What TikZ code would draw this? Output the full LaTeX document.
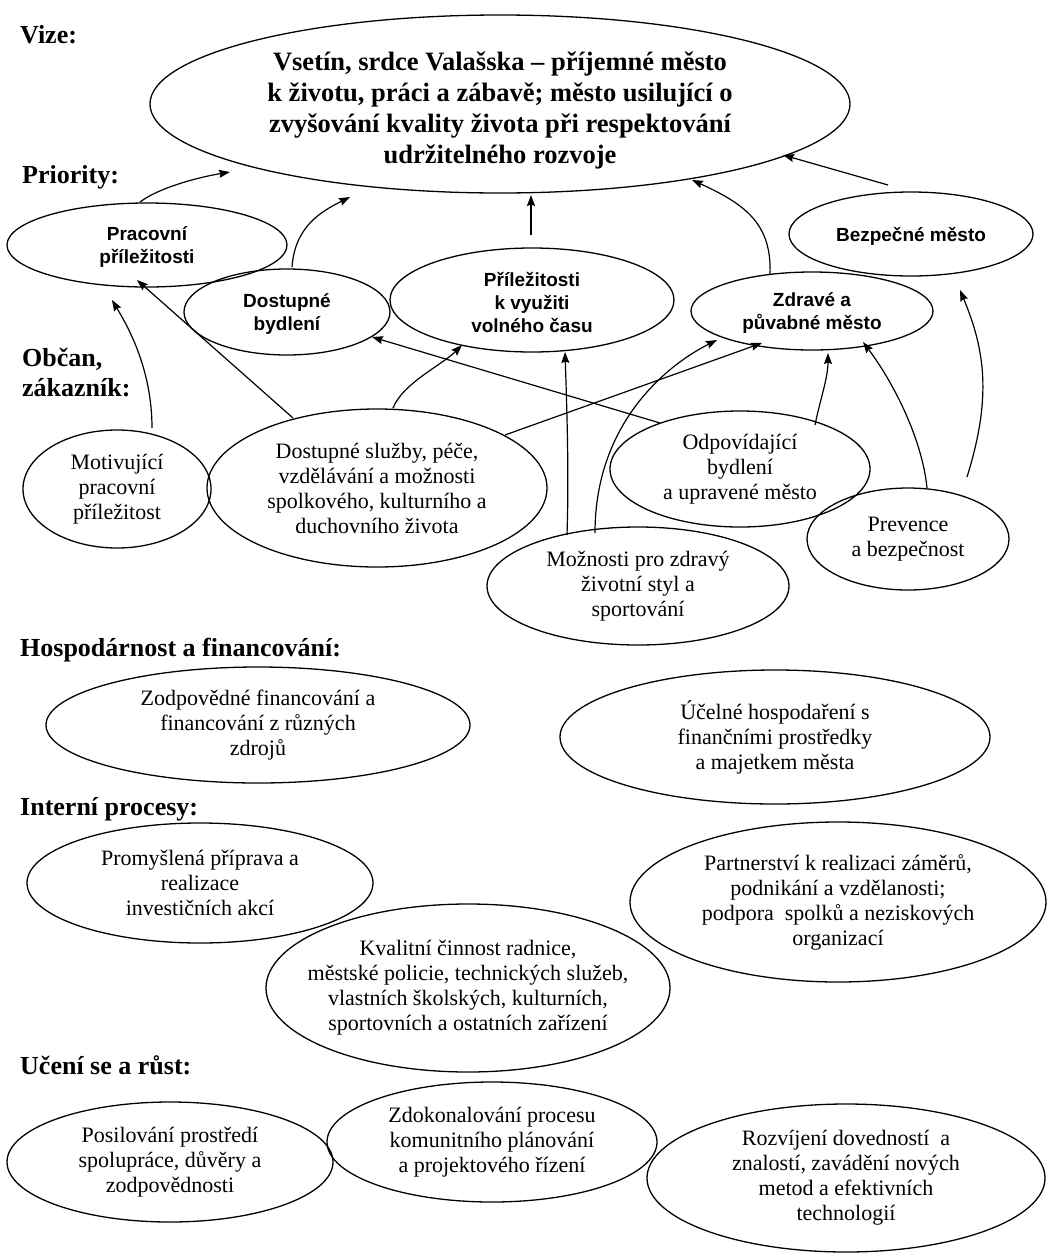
\documentclass[tikz,border=0pt]{standalone}
\usepackage{fontspec}
\setmainfont{Liberation Serif}
\setsansfont{Liberation Sans}
\usetikzlibrary{shapes.geometric,arrows.meta}
\tikzset{
  bubble/.style={draw, ellipse, line width=1.3pt, inner sep=0pt},
  vtxt/.style={align=center, inner sep=0pt, yshift=-6pt, font=\bfseries\fontsize{26.5}{31}\selectfont},
  ptxt/.style={align=center, inner sep=0pt, yshift=-2pt, font=\sffamily\bfseries\fontsize{19}{23}\selectfont},
  ctxt/.style={align=center, inner sep=0pt, font=\fontsize{22}{25}\selectfont},
  head/.style={anchor=base west, inner sep=0pt, font=\bfseries\fontsize{26}{30}\selectfont},
  arr/.style={line width=1.2pt, -{Stealth[length=11pt,width=8pt,inset=1.5pt]}},
}
% name, x, y, width, height, text style, text
\newcommand{\bub}[7]{%
  \node[bubble, minimum width=#4pt, minimum height=#5pt] (#1) at (#2,#3) {};
  \node[#6] (#1-t) at (#1.center) {#7};
}
\begin{document}
\begin{tikzpicture}[x=1pt, y=-1pt]
\fill[white] (0,0) rectangle (1048,1253);
\useasboundingbox (0,0) rectangle (1048,1253);

% headings
\node[head] (h-vize) at (20,43) {Vize:};
\node[head] (h-prio) at (22,183) {Priority:};
\node[head] (h-obcan) at (22,366) {Občan,};
\node[head] (h-zak) at (22,396) {zákazník:};
\node[head] (h-hosp) at (20,656) {Hospodárnost a financování:};
\node[head] (h-int) at (20,815) {Interní procesy:};
\node[head] (h-uc) at (20,1074) {Učení se a růst:};

% vision
\bub{vis}{500}{104}{700}{178}{vtxt}{Vsetín, srdce Valašska – příjemné město\\k životu, práci a zábavě; město usilující o\\zvyšování kvality života při respektování\\udržitelného rozvoje}

% priorities
\bub{prac}{147}{245}{280}{84}{ptxt}{Pracovní\\příležitosti}
\bub{dbyd}{287}{312}{206}{86}{ptxt}{Dostupné\\bydlení}
\bub{prile}{532}{300}{284}{104}{ptxt}{Příležitosti\\k využiti\\volného času}
\bub{zdr}{812}{311}{242}{78}{ptxt}{Zdravé a\\půvabné město}
\bub{bez}{911}{234}{244}{84}{ptxt}{Bezpečné město}

% citizen
\bub{mot}{117}{489}{188}{118}{ctxt}{Motivující\\pracovní\\příležitost}
\bub{dsl}{377}{488}{340}{158}{ctxt}{Dostupné služby, péče,\\vzdělávání a možnosti\\spolkového, kulturního a\\duchovního života}
\bub{odp}{740}{469}{260}{116}{ctxt}{Odpovídající\\bydlení\\a upravené město}
\bub{prev}{908}{539}{202}{102}{ctxt}{Prevence\\a bezpečnost}
\bub{moz}{638}{586}{302}{118}{ctxt}{Možnosti pro zdravý\\životní styl a\\sportování}

% finance
\bub{zodp}{258}{725}{424}{116}{ctxt}{Zodpovědné financování a\\financování z různých\\zdrojů}
\bub{ucel}{775}{737}{430}{134}{ctxt}{Účelné hospodaření s\\finančními prostředky\\a majetkem města}

% internal processes
\bub{prom}{200}{883}{346}{120}{ctxt}{Promyšlená příprava a\\realizace\\investičních akcí}
\bub{part}{838}{902}{416}{160}{ctxt}{Partnerství k realizaci záměrů,\\podnikání a vzdělanosti;\\podpora\ \ spolků a neziskových\\organizací}
\bub{kval}{468}{988}{404}{168}{ctxt}{Kvalitní činnost radnice,\\městské policie, technických služeb,\\vlastních školských, kulturních,\\sportovních a ostatních zařízení}

% learning and growth
\bub{posil}{170}{1162}{326}{120}{ctxt}{Posilování prostředí\\spolupráce, důvěry a\\zodpovědnosti}
\bub{zdok}{492}{1142}{330}{120}{ctxt}{Zdokonalování procesu\\komunitního plánování\\a projektového řízení}
\bub{rozv}{846}{1178}{398}{148}{ctxt}{Rozvíjení dovedností\ \ a\\znalostí, zavádění nových\\metod a efektivních\\technologií}

% connectors: priorities -> vision
\draw[arr] ([shift={(-7,-43)}]prac.center) .. controls +(20,-15) and +(-30,5) .. ([shift={(-270,68)}]vis.center);
\draw[arr] ([shift={(5,-45)}]dbyd.center) .. controls +(3,-40) and +(-30,15) .. ([shift={(-150,93)}]vis.center);
\draw[arr] ([shift={(-1,-65)}]prile.center) -- ([shift={(31,91)}]vis.center);
\draw[arr] ([shift={(-42,-36)}]zdr.center) .. controls +(2,-50) and +(55,25) .. ([shift={(192,76)}]vis.center);
\draw[arr] ([shift={(-23,-49)}]bez.center) -- ([shift={(283,51)}]vis.center);

% connectors: citizen -> priorities
\draw[arr] ([shift={(35,-61)}]mot.center) .. controls +(0,-60) and +(15,25) .. ([shift={(-35,55)}]prac.center);
\draw[arr] ([shift={(-84,-70)}]dsl.center) -- ([shift={(-10,35)}]prac.center);
\draw[arr] ([shift={(16,-80)}]dsl.center) .. controls +(10,-25) and +(-20,20) .. ([shift={(-70,45)}]prile.center);
\draw[arr] ([shift={(-71,-51)}]moz.center) .. controls +(2,-60) and +(2,60) .. ([shift={(33,52)}]prile.center);
\draw[arr] ([shift={(128,-53)}]dsl.center) -- ([shift={(-50,32)}]zdr.center);
\draw[arr] ([shift={(-43,-53)}]moz.center) .. controls +(0,-110) and +(-50,25) .. ([shift={(-95,29)}]zdr.center);
\draw[arr] ([shift={(-80,-46)}]odp.center) -- ([shift={(85,25)}]dbyd.center);
\draw[arr] ([shift={(75,-44)}]odp.center) .. controls +(5,-25) and +(0,25) .. ([shift={(16,42)}]zdr.center);
\draw[arr] ([shift={(19,-51)}]prev.center) .. controls +(-5,-50) and +(30,40) .. ([shift={(51,31)}]zdr.center);
\draw[arr] ([shift={(59,-62)}]prev.center) .. controls +(25,-80) and +(25,60) .. ([shift={(49,56)}]bez.center);
\end{tikzpicture}
\end{document}
